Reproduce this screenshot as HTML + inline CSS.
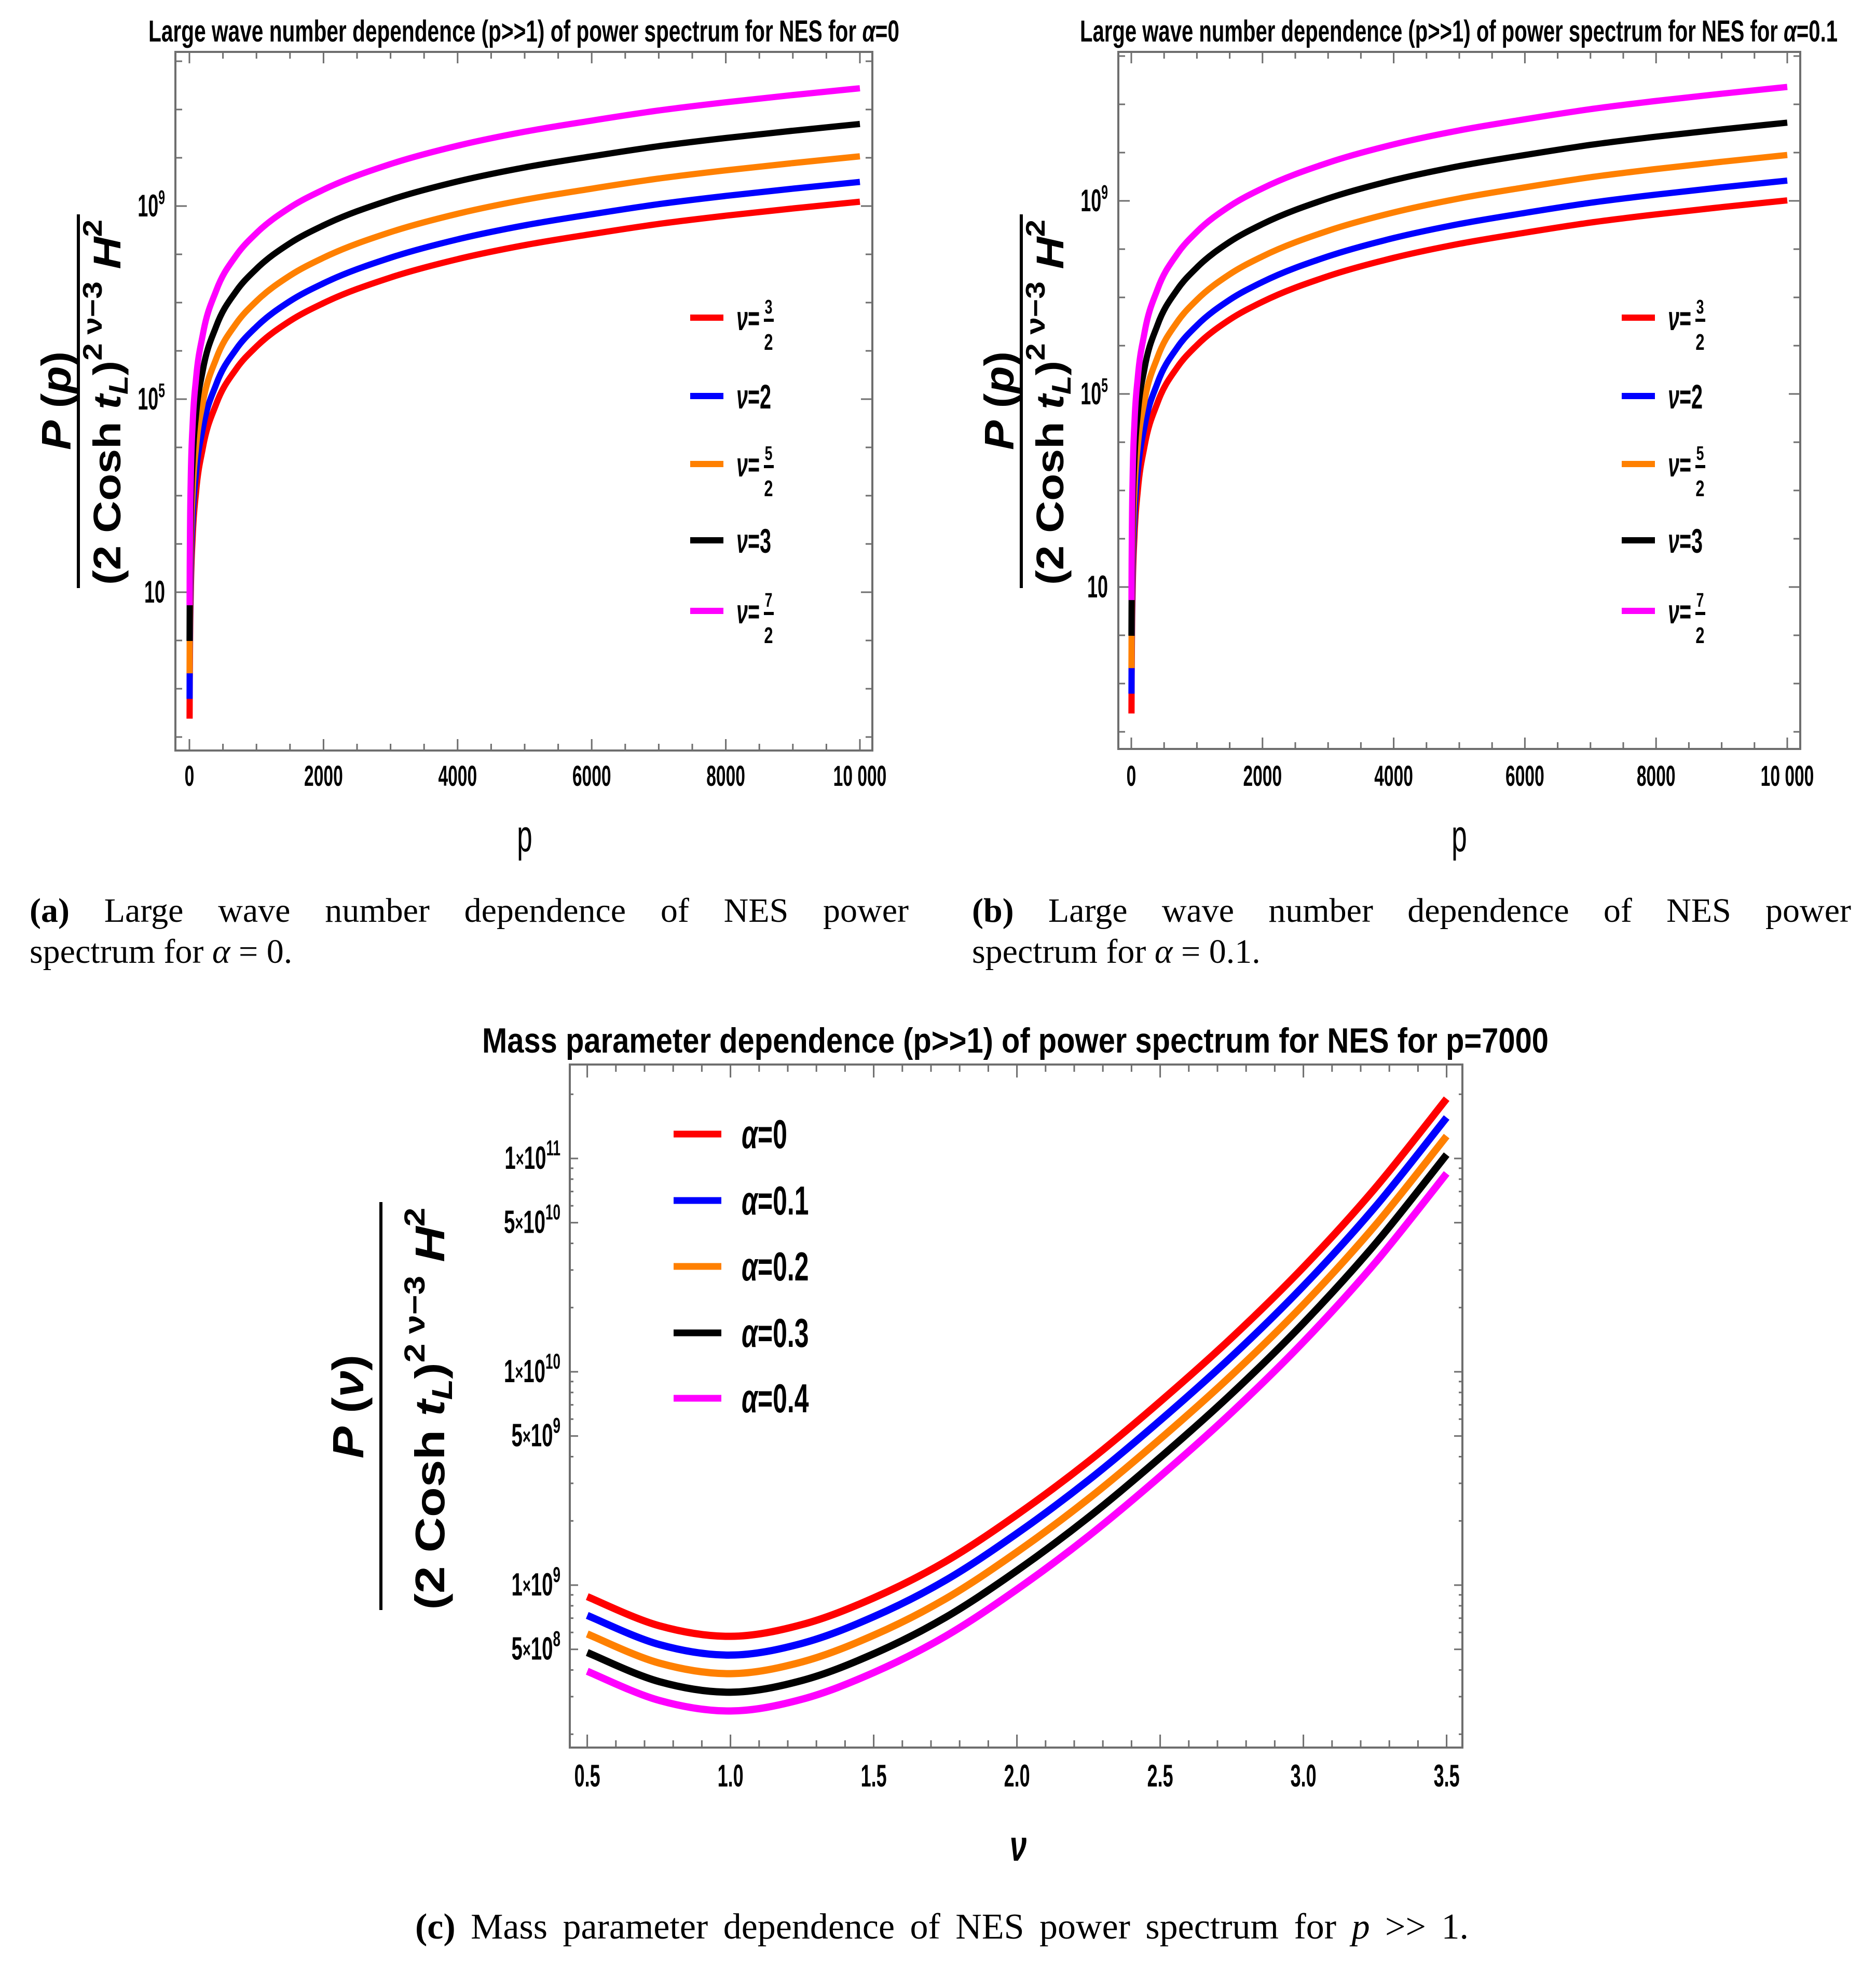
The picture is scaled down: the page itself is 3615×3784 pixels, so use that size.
<!DOCTYPE html>
<html><head><meta charset="utf-8"><style>
html,body{margin:0;padding:0;background:#fff}
#wrap{position:relative;width:3615px;height:3784px;overflow:hidden;background:#fff}
.cap{position:absolute;font-family:"Liberation Serif",serif;font-size:66px;color:#000;line-height:79px}
.just{text-align:justify;text-align-last:justify;white-space:nowrap}
</style></head><body>
<div id="wrap">
<svg id="svg" width="3615" height="3784" viewBox="0 0 3615 3784" xmlns="http://www.w3.org/2000/svg"></svg>
<div class="cap" style="left:57px;top:1715px;width:1694px">
 <div class="just"><b>(a)</b> Large wave number dependence of NES power</div>
 <div>spectrum for <i>α</i> = 0.</div>
</div>
<div class="cap" style="left:1873px;top:1715px;width:1694px">
 <div class="just"><b>(b)</b> Large wave number dependence of NES power</div>
 <div>spectrum for <i>α</i> = 0.1.</div>
</div>
<div class="cap" style="left:800px;top:3673px;width:2030px;font-size:70px">
 <div class="just"><b>(c)</b> Mass parameter dependence of NES power spectrum for <i>p</i> &gt;&gt; 1.</div>
</div>
</div>
<script>
// ---------- Data (panels a & b): log10 of P vs p ----------
const pValues = [2.7,5,10,20,50,100,200,400,700,1000,1500,2000,3000,4000,5000,6000,7000,8000,9000,10000];
const nuLabels = ["3/2","2","5/2","3","7/2"];
const logA_nu15 = [-1.62,-0.81,0.09,0.99,2.19,3.09,3.99,4.90,5.63,6.09,6.62,6.99,7.52,7.90,8.19,8.42,8.63,8.80,8.95,9.09];
const logA_nu20 = [-1.21,-0.40,0.50,1.40,2.60,3.50,4.40,5.31,6.04,6.50,7.03,7.40,7.93,8.31,8.60,8.83,9.04,9.21,9.36,9.50];
const logA_nu25 = [-0.68,0.13,1.03,1.93,3.13,4.03,4.93,5.84,6.57,7.03,7.56,7.93,8.46,8.84,9.13,9.36,9.57,9.74,9.89,10.03];
const logA_nu30 = [-0.01,0.80,1.70,2.60,3.80,4.70,5.60,6.51,7.24,7.70,8.23,8.60,9.13,9.51,9.80,10.03,10.24,10.41,10.56,10.70];
const logA_nu35 = [0.73,1.54,2.44,3.34,4.54,5.44,6.34,7.25,7.98,8.44,8.97,9.34,9.87,10.25,10.54,10.77,10.98,11.15,11.30,11.44];
const logB_nu15 = [-1.62,-0.85,0.02,0.91,2.11,3.01,3.91,4.82,5.55,6.01,6.54,6.91,7.44,7.82,8.11,8.34,8.55,8.72,8.87,9.01];
const logB_nu20 = [-1.21,-0.46,0.42,1.32,2.52,3.42,4.32,5.23,5.96,6.42,6.95,7.32,7.85,8.23,8.52,8.75,8.96,9.13,9.28,9.42];
const logB_nu25 = [-0.68,0.07,0.95,1.85,3.05,3.95,4.85,5.76,6.49,6.95,7.48,7.85,8.38,8.76,9.05,9.28,9.49,9.66,9.81,9.95];
const logB_nu30 = [-0.01,0.74,1.62,2.52,3.72,4.62,5.52,6.43,7.16,7.62,8.15,8.52,9.05,9.43,9.72,9.95,10.16,10.33,10.48,10.62];
const logB_nu35 = [0.73,1.48,2.36,3.26,4.46,5.36,6.26,7.17,7.90,8.36,8.89,9.26,9.79,10.17,10.46,10.69,10.90,11.07,11.22,11.36];
const pTicks = [0,2000,4000,6000,8000,10000];
// ---------- Data (panel c): log10 of P vs nu ----------
const nuValues = [0.5,0.75,1.0,1.25,1.5,1.75,2.0,2.25,2.5,2.75,3.0,3.25,3.5];
const alphaLabels = ["0","0.1","0.2","0.3","0.4"];
const logC_a00 = [8.946,8.810,8.760,8.815,8.940,9.110,9.330,9.580,9.860,10.160,10.490,10.860,11.280];
const logC_a01 = [8.858,8.722,8.672,8.727,8.852,9.022,9.242,9.492,9.772,10.072,10.402,10.772,11.192];
const logC_a02 = [8.771,8.635,8.585,8.640,8.765,8.935,9.155,9.405,9.685,9.985,10.315,10.685,11.105];
const logC_a03 = [8.684,8.548,8.498,8.553,8.678,8.848,9.068,9.318,9.598,9.898,10.228,10.598,11.018];
const logC_a04 = [8.596,8.460,8.410,8.465,8.590,8.760,8.980,9.230,9.510,9.810,10.140,10.510,10.930];
const nuTicks = [0.5,1.0,1.5,2.0,2.5,3.0,3.5];
const cTickMantissa = [1,5];

const COLORS = ["#ff0000","#0000ff","#ff8000","#000000","#ff00ff"];
const NS = "http://www.w3.org/2000/svg";
const svg = document.getElementById("svg");
function el(tag, attrs, parent){ const e=document.createElementNS(NS,tag); for(const k in attrs) e.setAttribute(k,attrs[k]); (parent||svg).appendChild(e); return e; }
function txt(parent, html, x, y, size, o){
  o=o||{};
  const t=el("text",{x:0,y:0,"font-family":'"Liberation Sans",sans-serif',"font-size":size,"font-weight":o.weight||"bold","text-anchor":o.anchor||"start",fill:"#000",
    transform:`translate(${x},${y}) scale(${o.sx||1},1)`+(o.rot?` rotate(${o.rot})`:"")},parent);
  if(o.len){ t.setAttribute("textLength",o.len); t.setAttribute("lengthAdjust","spacingAndGlyphs"); }
  t.innerHTML=html; return t;
}
// Steffen monotone cubic Hermite in pixel space (x increasing)
function smooth(pts){
  const n=pts.length, h=[], s=[], d=[];
  for(let i=0;i<n-1;i++){ h[i]=pts[i+1][0]-pts[i][0]; s[i]=(pts[i+1][1]-pts[i][1])/(h[i]||1e-9); }
  for(let i=0;i<n;i++){
    if(i===0){ d[i]=s[0]; continue; }
    if(i===n-1){ d[i]=s[n-2]; continue; }
    const p=(s[i-1]*h[i]+s[i]*h[i-1])/(h[i-1]+h[i]);
    d[i]=(Math.sign(s[i-1])+Math.sign(s[i]))*Math.min(Math.abs(s[i-1]),Math.abs(s[i]),0.5*Math.abs(p));
  }
  let path=`M${pts[0][0]},${pts[0][1]}`;
  for(let i=0;i<n-1;i++){
    const a=pts[i], b=pts[i+1], dx=h[i]/3;
    path+=` C${a[0]+dx},${a[1]+d[i]*dx} ${b[0]-dx},${b[1]-d[i+1]*dx} ${b[0]},${b[1]}`;
  }
  return path;
}
// Catmull-Rom for uniformly spaced samples (allows smooth minima)
function catmull(pts){
  let d=`M${pts[0][0]},${pts[0][1]}`;
  for(let i=0;i<pts.length-1;i++){
    const p0=pts[Math.max(0,i-1)],p1=pts[i],p2=pts[i+1],p3=pts[Math.min(pts.length-1,i+2)];
    const c1=[p1[0]+(p2[0]-p0[0])/6,p1[1]+(p2[1]-p0[1])/6], c2=[p2[0]-(p3[0]-p1[0])/6,p2[1]-(p3[1]-p1[1])/6];
    d+=` C${c1[0]},${c1[1]} ${c2[0]},${c2[1]} ${p2[0]},${p2[1]}`;
  }
  return d;
}
function frame(g, b){
  const r=el("rect",{x:b.x0,y:b.y0,width:b.x1-b.x0,height:b.y1-b.y0,fill:"none",stroke:"#6e6e6e","stroke-width":4},g);
  
  
}
function tick(g,x1,y1,x2,y2){ el("line",{x1,y1,x2,y2,stroke:"#6e6e6e","stroke-width":3},g); }

// ---------- Panels a & b ----------
function panelP(id, b, xmap, ymap, series, titleHtml, titleX, titleW, legX){
  const g=el("g",{});
  
  
  const clipId="clip-"+id;
  const cp=el("clipPath",{id:clipId},g); el("rect",{x:b.x0,y:b.y0,width:b.x1-b.x0,height:b.y1-b.y0},cp);
  const title=txt(g,titleHtml,titleX,80,58,{len:titleW});
  
  
  frame(g,b);
  for(let p=0;p<=10000;p+=500){
    const x=xmap(p), major=(p%2000===0);
    const L=major?22:13;
    tick(g,x,b.y1,x,b.y1-L); tick(g,x,b.y0,x,b.y0+L);
  }
  pTicks.forEach(p=>{
    const t=txt(g,String(p).replace(/^(\d\d)(\d\d\d)$/,"$1 $2"),xmap(p),1514,56,{anchor:"middle",sx:0.6});
    
    
  });
  for(let L=-2;L<=12;L++){
    const y=ymap(L); if(y<b.y0||y>b.y1) continue;
    const major=(L===1||L===5||L===9), len=major?22:13;
    tick(g,b.x0,y,b.x0+len,y); tick(g,b.x1,y,b.x1-len,y);
  }
  [[1,"10"],[5,"10<tspan font-size='38' dy='-24'>5</tspan>"],[9,"10<tspan font-size='38' dy='-24'>9</tspan>"]].forEach(([L,h])=>{
    const t=txt(g,h,b.x0-20,ymap(L)+20,60,{anchor:"end",sx:0.6});
    
    
  });
  const xl=txt(g,"p",(xmap(0)+xmap(10000))/2,1640,86,{anchor:"middle",sx:0.62,weight:"normal"});
  
  
  const bx=b.x0-190;
  const bar=el("rect",{x:bx,y:413,width:6,height:720,fill:"#000"},g);
  
  
  const num=txt(g,"<tspan font-style='italic'>P</tspan> (<tspan font-style='italic'>p</tspan>)",bx-12,772,80,{anchor:"middle",rot:-90,len:190});
  
  
  const den=txt(g,"(2 Cosh <tspan font-style='italic'>t</tspan><tspan font-style='italic' font-size='52' dy='14'>L</tspan><tspan dy='-14'>)</tspan><tspan font-size='52' dy='-36'>2 ν−3</tspan><tspan dy='36'> </tspan><tspan font-style='italic'>H</tspan><tspan font-size='52' dy='-36'>2</tspan>",bx+84,775,74,{anchor:"middle",rot:-90,len:704});
  
  
  const cg=el("g",{"clip-path":`url(#${clipId})`},g);
  series.forEach((arr,i)=>{
    const pts=pValues.map((p,k)=>[xmap(p),ymap(arr[k])]);
    const path=el("path",{d:smooth(pts),fill:"none",stroke:COLORS[i],"stroke-width":12,"stroke-linejoin":"round"},cg);
    
    
  });
  const legY=[612,763,894,1041,1177];
  nuLabels.forEach((lab,i)=>{
    const lg=el("g",{},g);
    
    
    el("line",{x1:legX,y1:legY[i],x2:legX+64,y2:legY[i],stroke:COLORS[i],"stroke-width":12},lg);
    const y=legY[i];
    txt(lg,"<tspan font-style='italic'>ν</tspan>=",legX+89,y+24,66,{sx:0.6});
    if(lab.includes("/")){
      const [n,d]=lab.split("/");
      txt(lg,n,legX+151,y-8,38,{anchor:"middle",sx:0.7});
      el("rect",{x:legX+142,y:y+2,width:19,height:6,fill:"#000"},lg);
      txt(lg,d,legX+151,y+62,44,{anchor:"middle",sx:0.7});
    } else {
      txt(lg,lab,legX+134,y+24,66,{sx:0.6});
    }
  });
}
panelP("panel-a",{x0:338,x1:1681,y0:100,y1:1446},p=>365+p*0.1292,L=>1141-(L-1)*93,
  [logA_nu15,logA_nu20,logA_nu25,logA_nu30,logA_nu35],
  "Large wave number dependence (p&gt;&gt;1) of power spectrum for NES for <tspan font-style='italic'>α</tspan>=0",286,1447,1330);
panelP("panel-b",{x0:2155,x1:3469,y0:100,y1:1443},p=>2180+p*0.1264,L=>1131-(L-1)*93,
  [logB_nu15,logB_nu20,logB_nu25,logB_nu30,logB_nu35],
  "Large wave number dependence (p&gt;&gt;1) of power spectrum for NES for <tspan font-style='italic'>α</tspan>=0.1",2081,1460,3125);

// ---------- Panel c ----------
(function(){
  const b={x0:1098,x1:2818,y0:2051,y1:3367};
  const xmap=v=>1131.6+(v-0.5)*552, ymap=L=>3054-(L-9)*411;
  const g=el("g",{});
  
  
  const cp=el("clipPath",{id:"clip-c"},g); el("rect",{x:b.x0,y:b.y0,width:b.x1-b.x0,height:b.y1-b.y0},cp);
  const title=txt(g,"Mass parameter dependence (p&gt;&gt;1) of power spectrum for NES for p=7000",929,2028,68,{len:2055});
  
  
  frame(g,b);
  for(let k=0;k<=31;k++){
    const v=0.4+k*0.1; const x=xmap(v); if(x<b.x0||x>b.x1) continue;
    const major=Math.abs((v*2)-Math.round(v*2))<1e-6, L=major?25:14;
    tick(g,x,b.y1,x,b.y1-L); tick(g,x,b.y0,x,b.y0+L);
  }
  nuTicks.forEach(v=>{
    const t=txt(g,v.toFixed(1),xmap(v),3442,60,{anchor:"middle",sx:0.6});
    
    
  });
  for(let e=8;e<=11;e++) for(let m=1;m<=9;m++){
    const L=e+Math.log10(m), y=ymap(L); if(y<b.y0||y>b.y1) continue;
    const major=cTickMantissa.includes(m), len=major?16:7;
    tick(g,b.x0,y,b.x0+len,y); tick(g,b.x1,y,b.x1-len,y);
    if(major){
      const t=txt(g,`${m}<tspan font-size='44' dy='-4'>×</tspan><tspan dy='4'>10</tspan><tspan font-size='42' dy='-26'>${e}</tspan>`,1080,y+20,62,{anchor:"end",sx:0.62});
      
      
    }
  }
  const xl=txt(g,"<tspan font-style='italic'>ν</tspan>",1962,3585,84,{anchor:"middle",sx:0.7});
  
  
  const bar=el("rect",{x:731,y:2316,width:6,height:786,fill:"#000"},g);
  
  
  const num=txt(g,"<tspan font-style='italic'>P</tspan> (<tspan font-style='italic'>ν</tspan>)",700,2710,84,{anchor:"middle",rot:-90,len:200});
  
  
  const den=txt(g,"(2 Cosh <tspan font-style='italic'>t</tspan><tspan font-style='italic' font-size='56' dy='15'>L</tspan><tspan dy='-15'>)</tspan><tspan font-size='56' dy='-38'>2 ν−3</tspan><tspan dy='38'> </tspan><tspan font-style='italic'>H</tspan><tspan font-size='56' dy='-38'>2</tspan>",856,2714,80,{anchor:"middle",rot:-90,len:775});
  
  
  const cg=el("g",{"clip-path":"url(#clip-c)"},g);
  [logC_a00,logC_a01,logC_a02,logC_a03,logC_a04].forEach((arr,i)=>{
    const pts=nuValues.map((v,k)=>[xmap(v),ymap(arr[k])]);
    const path=el("path",{d:catmull(pts),fill:"none",stroke:COLORS[i],"stroke-width":14,"stroke-linejoin":"round"},cg);
    
    
  });
  const legY=[2185,2313,2440,2568,2694];
  alphaLabels.forEach((lab,i)=>{
    const lg=el("g",{},g);
    
    
    el("line",{x1:1298,y1:legY[i],x2:1390,y2:legY[i],stroke:COLORS[i],"stroke-width":13},lg);
    txt(lg,"<tspan font-style='italic'>α</tspan>="+lab,1429,legY[i]+27,78,{sx:0.64});
  });
})();
</script>
</body></html>
